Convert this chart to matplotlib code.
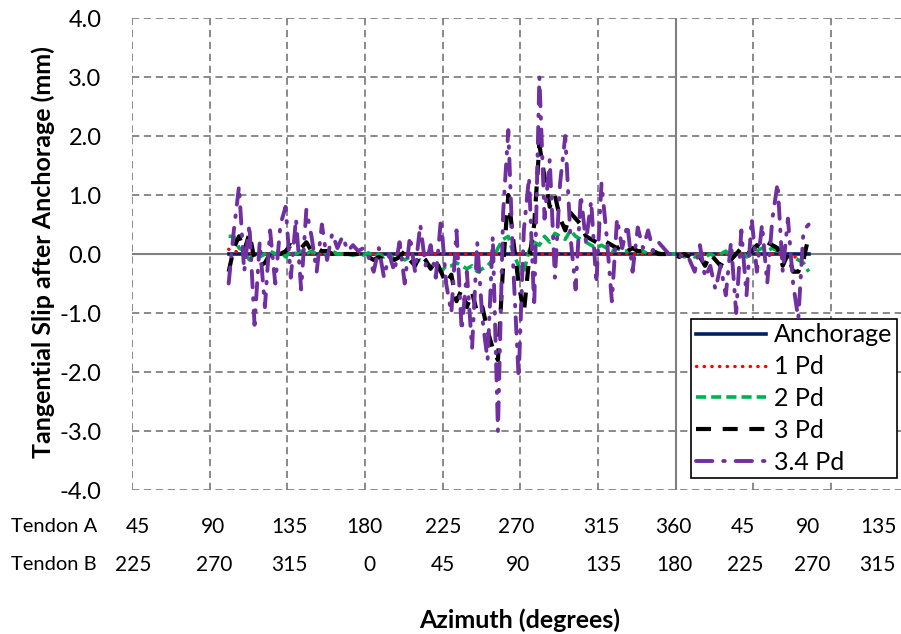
import matplotlib
matplotlib.use("Agg")
import matplotlib.pyplot as plt

plt.rcParams['font.family'] = ['Lato', 'DejaVu Sans']

# azimuth along the chart (Tendon A degrees, continuing past 360)
azimuth = [101, 104, 107, 110, 113, 116, 119, 122, 125, 128, 131, 134, 137, 140,
           143, 146, 149, 152, 155, 158, 161, 164, 167, 170, 173, 176, 179, 182,
           185, 188, 191, 194, 197, 200, 203, 206, 209, 212, 215, 218, 221, 224,
           227, 230, 233, 236, 239, 242, 245, 248, 251, 254, 257, 260, 263, 266,
           269, 272, 275, 278, 281, 284, 287, 290, 293, 296, 299, 302, 305, 308,
           311, 314, 317, 320, 323, 326, 329, 332, 335, 338, 341, 344, 347, 350,
           353, 356, 359, 362, 365, 368, 371, 374, 377, 380, 383, 386, 389, 392,
           395, 398, 401, 404, 407, 410, 413, 416, 419, 422, 425, 428, 431, 434, 437]

anchorage = [0.0] * len(azimuth)

pd_1 = [0.08, 0.05, 0.03, 0.02, 0.02, 0.01, 0.01, 0.0, 0.01, 0.0, 0.01, 0.0, 0.0, 0.0,
        0.0, 0.0, 0.0, 0.0, 0.0, 0.0, 0.0, 0.0, 0.0, 0.0, 0.0, 0.0, 0.0, 0.0,
        0.0, 0.0, 0.0, 0.0, 0.0, 0.0, 0.0, 0.0, 0.0, 0.0, 0.0, 0.0, 0.0, 0.0,
        0.0, 0.0, 0.0, 0.0, 0.0, 0.0, 0.0, 0.0, 0.0, 0.0, 0.0, 0.0, 0.0, 0.0,
        0.0, 0.0, 0.0, 0.0, 0.0, 0.0, 0.0, 0.0, 0.0, 0.0, 0.0, 0.0, 0.0, 0.0,
        0.0, 0.0, 0.0, 0.0, 0.0, 0.0, 0.0, 0.0, 0.0, 0.0, 0.0, 0.0, 0.0, 0.0,
        0.0, 0.0, 0.0, 0.0, 0.0, 0.0, 0.0, 0.0, 0.0, 0.0, 0.0, 0.0, 0.0, 0.0,
        0.0, 0.0, 0.0, 0.0, 0.0, 0.0, 0.0, 0.0, 0.0, -0.02, -0.05, -0.05, -0.05, -0.03, 0.0]

pd_2 = [0.3, 0.3, 0.1, 0.05, -0.1, 0.0, -0.05, 0.0, 0.05, 0.0, 0.05, -0.05, 0.05, 0.0,
        0.05, 0.0, 0.05, 0.0, 0.05, 0.0, 0.05, 0.0, 0.0, 0.0, -0.02, 0.0, -0.02, 0.02,
        -0.05, 0.0, -0.05, 0.0, -0.1, -0.05, -0.1, -0.05, -0.15, -0.1, -0.15, -0.2, -0.25, -0.3,
        -0.2, -0.2, -0.15, -0.2, -0.25, -0.2, -0.3, -0.25, -0.2, -0.1, 0.1, 0.25, 0.3, 0.0,
        -0.2, -0.3, 0.05, 0.2, 0.15, 0.3, 0.2, 0.35, 0.3, 0.25, 0.4, 0.3, 0.25, 0.2,
        0.15, 0.1, 0.15, 0.1, 0.05, 0.1, 0.05, 0.05, 0.1, 0.02, 0.05, 0.0, 0.05, 0.02,
        0.0, 0.0, 0.0, 0.0, -0.05, 0.0, -0.05, 0.0, -0.05, 0.0, -0.05, 0.0, 0.05, -0.05,
        0.0, 0.05, -0.05, 0.0, 0.05, 0.1, 0.05, 0.1, 0.05, 0.0, -0.05, -0.05, -0.1, -0.15, -0.3]

pd_3 = [-0.3, 0.1, 0.3, 0.05, 0.35, -0.1, -0.2, -0.15, 0.0, 0.05, 0.0, 0.05, 0.15, 0.1,
        0.1, 0.2, 0.05, 0.1, 0.05, 0.05, 0.0, 0.05, 0.0, 0.0, 0.0, 0.0, 0.0, -0.05,
        -0.1, -0.05, -0.1, -0.05, -0.1, -0.05, 0.05, -0.1, -0.2, 0.0, -0.1, -0.25, -0.1, -0.3,
        -0.5, -0.35, -0.8, -0.6, -0.9, -0.65, -1.0, -0.9, -1.3, -1.6, -1.8, -0.2, 1.0, 0.2,
        -0.5, -1.0, -0.1, 0.5, 1.85, 1.3, 0.8, 1.0, 0.6, 0.4, 0.7, 0.6, 0.5, 0.3,
        0.25, 0.2, 0.25, 0.2, 0.15, 0.1, 0.15, 0.05, 0.1, 0.05, 0.05, 0.0, 0.05, 0.0,
        0.0, 0.0, 0.0, -0.05, 0.0, -0.05, -0.1, -0.05, -0.2, 0.0, -0.1, -0.2, -0.05, -0.1,
        0.0, 0.1, 0.0, 0.05, 0.15, 0.1, 0.2, 0.15, 0.1, -0.2, 0.0, -0.3, -0.3, -0.1, 0.3]

pd_34 = [-0.5, 0.4, 1.15, -0.3, 0.5, -1.2, 0.2, -0.9, 0.4, -0.5, 0.5, 0.8, -0.4, 0.6,
         -0.6, 0.75, 0.3, -0.3, 0.5, -0.1, 0.35, 0.1, 0.3, 0.05, 0.15, 0.05, 0.1, -0.05,
         -0.3, 0.1, -0.4, 0.0, -0.3, 0.2, -0.5, 0.3, -0.3, 0.5, -0.2, 0.15, -0.4, 0.6,
         -0.5, -1.0, 0.4, -1.3, -0.3, -1.6, 0.2, -1.1, -1.8, 0.3, -3.0, 0.7, 2.1, -0.3,
         -2.1, 0.4, 1.3, -0.9, 3.0, 0.6, 1.6, -0.4, 1.2, 2.0, 0.3, -0.6, 1.0, 0.2,
         0.9, -0.5, 1.2, 0.3, -0.8, 0.6, 0.1, 0.5, -0.3, 0.45, 0.1, 0.4, 0.05, 0.2,
         0.1, 0.0, 0.0, -0.05, 0.0, -0.1, -0.3, 0.15, -0.4, -0.2, -0.6, -0.2, -0.7, 0.2,
         -1.0, 0.4, -0.7, 0.6, -0.3, 0.5, -0.5, 0.6, 1.2, -0.3, 0.6, -0.5, -1.1, 0.4, 0.5]

tendon_a = ['45', '90', '135', '180', '225', '270', '315', '360', '45', '90', '135']
tendon_b = ['225', '270', '315', '0', '45', '90', '135', '180', '225', '270', '315']
label_pos_a = [48.5, 92, 136, 179.5, 225, 267.5, 317, 358.5, 399, 436.5, 477.5]
label_pos_b = [45.5, 92.5, 136, 182.5, 225, 268.5, 318, 359, 400, 439, 477]

fig = plt.figure(figsize=(9.01, 6.34), dpi=100)
ax = fig.add_axes([0.1465, 0.2271, 0.8535, 0.7445])

grid_color = '#808080'
ax.set_xlim(45, 490.5)
ax.set_ylim(-4, 4)
ax.set_xticks([45, 90, 135, 180, 225, 270, 315, 405, 450])
ax.set_yticks([-4, -3, -2, -1, 0, 1, 2, 3, 4])
ax.set_yticklabels(['%.1f' % v for v in [-4, -3, -2, -1, 0, 1, 2, 3, 4]])
ax.tick_params(axis='x', length=0, labelbottom=False)
ax.tick_params(axis='y', length=0, pad=22, labelsize=17)
for s in ax.spines.values():
    s.set_visible(False)
ax.grid(True, color=grid_color, linestyle=(0, (4, 2.6)), linewidth=1.3)
ax.axhline(0, color=grid_color, linewidth=1.5, zorder=1)
ax.axvline(360, color=grid_color, linewidth=1.5, zorder=1)

ax.plot(azimuth, anchorage, color='#002060', linewidth=2.6, label='Anchorage', zorder=3)
ax.plot(azimuth, pd_1, color='#FF0000', linewidth=2.4, linestyle=(0, (0.1, 2.2)),
        dash_capstyle='round', label='1 Pd', zorder=4)
ax.plot(azimuth, pd_2, color='#00B050', linewidth=2.6, linestyle=(0, (2.8, 1.4)),
        label='2 Pd', zorder=5)
ax.plot(azimuth, pd_3, color='black', linewidth=3.0, linestyle=(0, (3.6, 2.8)),
        label='3 Pd', zorder=6)
ax.plot(azimuth, pd_34, color='#7030A0', linewidth=2.8,
        linestyle=(0, (4.2, 2.8, 0.4, 2.8)), dash_capstyle='round', label='3.4 Pd', zorder=7)

leg = ax.legend(loc='upper left', bbox_to_anchor=(691 / 901, 1 - 319 / 634),
                bbox_transform=fig.transFigure, fontsize=18, frameon=True, fancybox=False,
                edgecolor='black', framealpha=1, handlelength=2.8, labelspacing=0.35,
                borderpad=0.18, handletextpad=0.35, borderaxespad=0)
leg.get_frame().set_linewidth(1.2)

tr = ax.get_xaxis_transform()
for pos, lab in zip(label_pos_a, tendon_a):
    ax.text(pos, -0.078, lab, transform=tr, ha='center', va='center', fontsize=15, clip_on=False)
for pos, lab in zip(label_pos_b, tendon_b):
    ax.text(pos, -0.159, lab, transform=tr, ha='center', va='center', fontsize=15, clip_on=False)
fig.text(11 / 901, 1 - 527 / 634, 'Tendon A', ha='left', va='center', fontsize=14.5)
fig.text(11 / 901, 1 - 565 / 634, 'Tendon B', ha='left', va='center', fontsize=14.5)

fig.text(43 / 901, 1 - 252 / 634, 'Tangential Slip after Anchorage (mm)', rotation=90,
         ha='center', va='center', fontsize=18, fontweight='bold')
fig.text(520 / 901, 1 - 620 / 634, 'Azimuth (degrees)', ha='center', va='center',
         fontsize=18, fontweight='bold')

fig.savefig('out.png', dpi=100)
